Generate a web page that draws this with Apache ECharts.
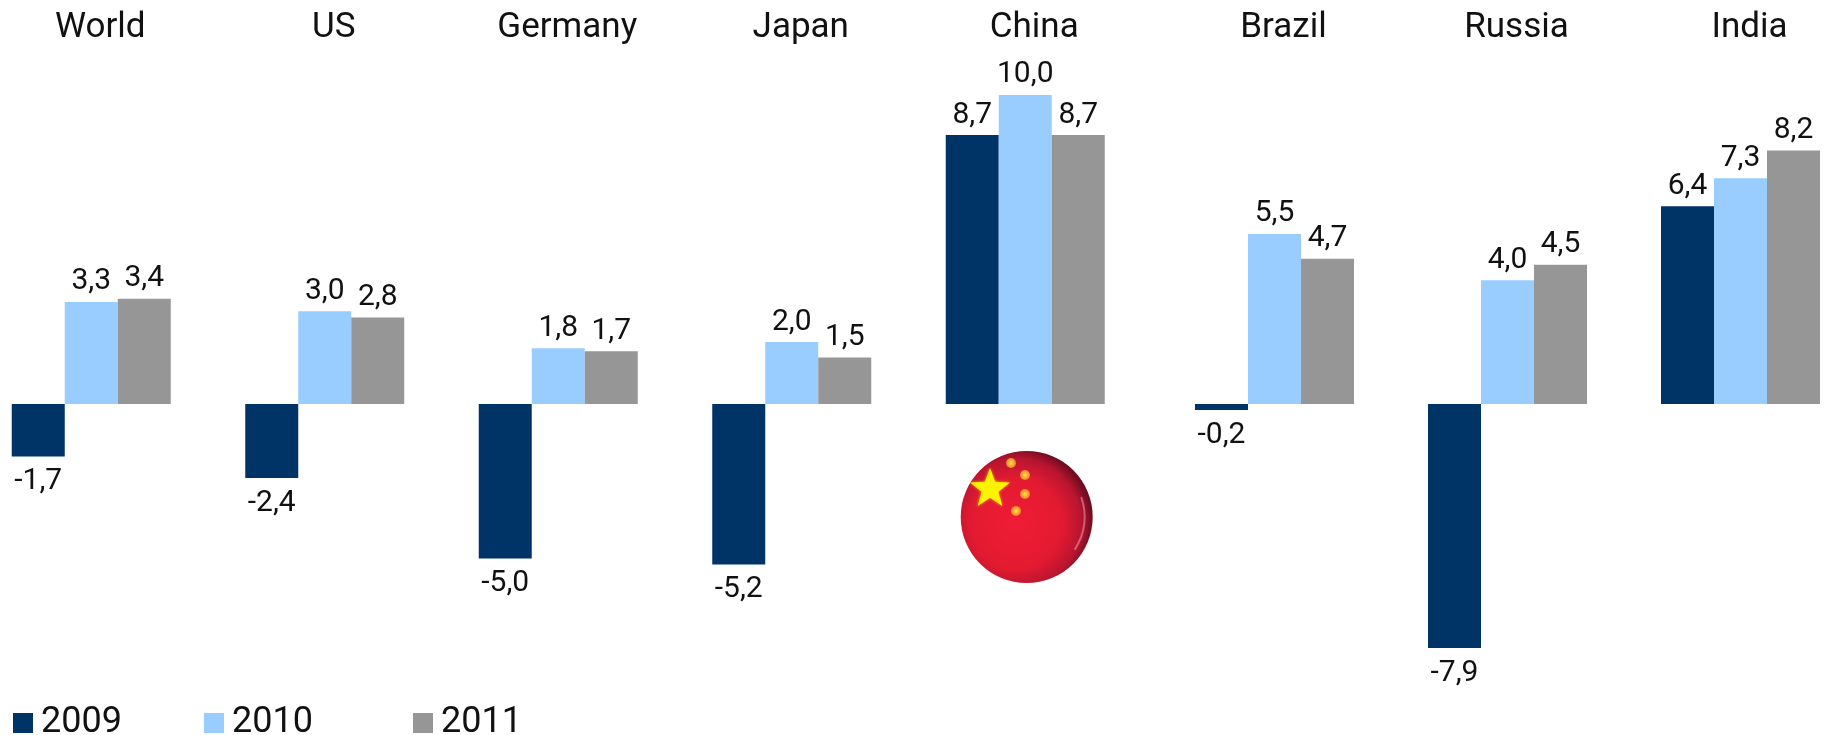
<!DOCTYPE html>
<html>
<head>
<meta charset="utf-8">
<style>html,body{margin:0;padding:0;background:#fff;overflow:hidden}#c{width:1830px;height:735px}</style>
<script src="https://cdn.jsdelivr.net/npm/echarts@6/dist/echarts.min.js"></script>
</head>
<body>
<div id="c"></div>
<script>
const categories = ["World","US","Germany","Japan","China","Brazil","Russia","India"];
const seriesNames = ["2009","2010","2011"];
const values2009 = [-1.7,-2.4,-5.0,-5.2,8.7,-0.2,-7.9,6.4];
const values2010 = [3.3,3.0,1.8,2.0,10.0,5.5,4.0,7.3];
const values2011 = [3.4,2.8,1.7,1.5,8.7,4.7,4.5,8.2];
const colors = ["#003366","#99CCFF","#969696"];
const FONT = "Roboto";
const SPLIT = 5; // the reference leaves a wider gap between China and Brazil

function star(cx,cy,R,rot){
  const pts=[];
  for(let i=0;i<10;i++){
    const r=i%2?R*0.42:R, a=-Math.PI/2+rot+i*Math.PI/5;
    pts.push([cx+r*Math.cos(a),cy+r*Math.sin(a)]);
  }
  return {type:'polygon',shape:{points:pts},style:{fill:'#FFF200',shadowBlur:3,shadowColor:'#FFB000'},silent:true};
}
function smallDot(cx,cy){
  return {type:'circle',shape:{cx:cx,cy:cy,r:5},style:{fill:{type:'radial',x:.5,y:.5,r:.5,colorStops:[{offset:0,color:'#FFE040'},{offset:1,color:'#F08030'}]}},silent:true};
}

const labelStyle = {show:true,position:'top',distance:5,fontFamily:FONT,fontSize:30,color:'#111',
  formatter:p=>p.value.toFixed(1).replace('.',',')};

function makeSeries(name,data,color,axisIndex){
  return {name:name,type:'bar',xAxisIndex:axisIndex,yAxisIndex:axisIndex,
    data:data.map(v=>({value:v,label:Object.assign({},labelStyle,v<0?{position:'bottom',distance:10}:{})})),
    barWidth:53,barGap:0,itemStyle:{color:color},label:labelStyle,silent:true};
}
const allValues=[values2009,values2010,values2011];
const seriesList=[];
allValues.forEach((vals,i)=>{
  seriesList.push(makeSeries(seriesNames[i],vals.slice(0,SPLIT),colors[i],0));
  seriesList.push(makeSeries(seriesNames[i],vals.slice(SPLIT),colors[i],1));
});
function xAxis(gridIndex,cats){
  return {type:'category',gridIndex:gridIndex,data:cats,position:'top',
    axisLine:{show:false},axisTick:{show:false},
    axisLabel:{interval:0,fontFamily:FONT,fontSize:35,color:'#111',margin:18,padding:[0,0,0,18]}};
}
function yAxis(gridIndex){
  return {type:'value',gridIndex:gridIndex,min:-9,max:11,show:false,splitLine:{show:false}};
}

const chart = echarts.init(document.getElementById('c'),null,{renderer:'canvas'});
const legendBase = {orient:'horizontal',top:705,padding:0,itemWidth:20,itemHeight:20,itemGap:0,icon:'rect',
  textStyle:{fontFamily:FONT,fontSize:36,color:'#111',padding:[8,0,0,3]},selectedMode:false};
chart.setOption({
  animation:false,
  backgroundColor:'#fff',
  grid:[
    {left:-25.5,width:1167.5,top:64,height:618,outerBoundsMode:'none'},
    {left:1158,width:699,top:64,height:618,outerBoundsMode:'none'}
  ],
  xAxis:[xAxis(0,categories.slice(0,SPLIT)),xAxis(1,categories.slice(SPLIT))],
  yAxis:[yAxis(0),yAxis(1)],
  legend:[
    Object.assign({},legendBase,{left:13,data:[seriesNames[0]]}),
    Object.assign({},legendBase,{left:204,data:[seriesNames[1]]}),
    Object.assign({},legendBase,{left:413,data:[seriesNames[2]]})
  ],
  series:seriesList,
  graphic:[{type:'group',silent:true,children:[
    {type:'circle',shape:{cx:1026.7,cy:517,r:66},
      style:{fill:{type:'radial',x:.42,y:.55,r:.58,colorStops:[
        {offset:0,color:'#F01C36'},{offset:.6,color:'#E21A30'},{offset:.85,color:'#B81530'},{offset:1,color:'#700C20'}]}}},
    {type:'arc',shape:{cx:1026.7,cy:517,r:58,startAngle:-0.35,endAngle:0.6},
      style:{stroke:'rgba(255,190,190,0.45)',lineWidth:2,fill:null}},
    star(990,489,21,0),
    smallDot(1011,463),smallDot(1025,475),smallDot(1025,494),smallDot(1016,511)
  ]}]
});
</script>
</body>
</html>
